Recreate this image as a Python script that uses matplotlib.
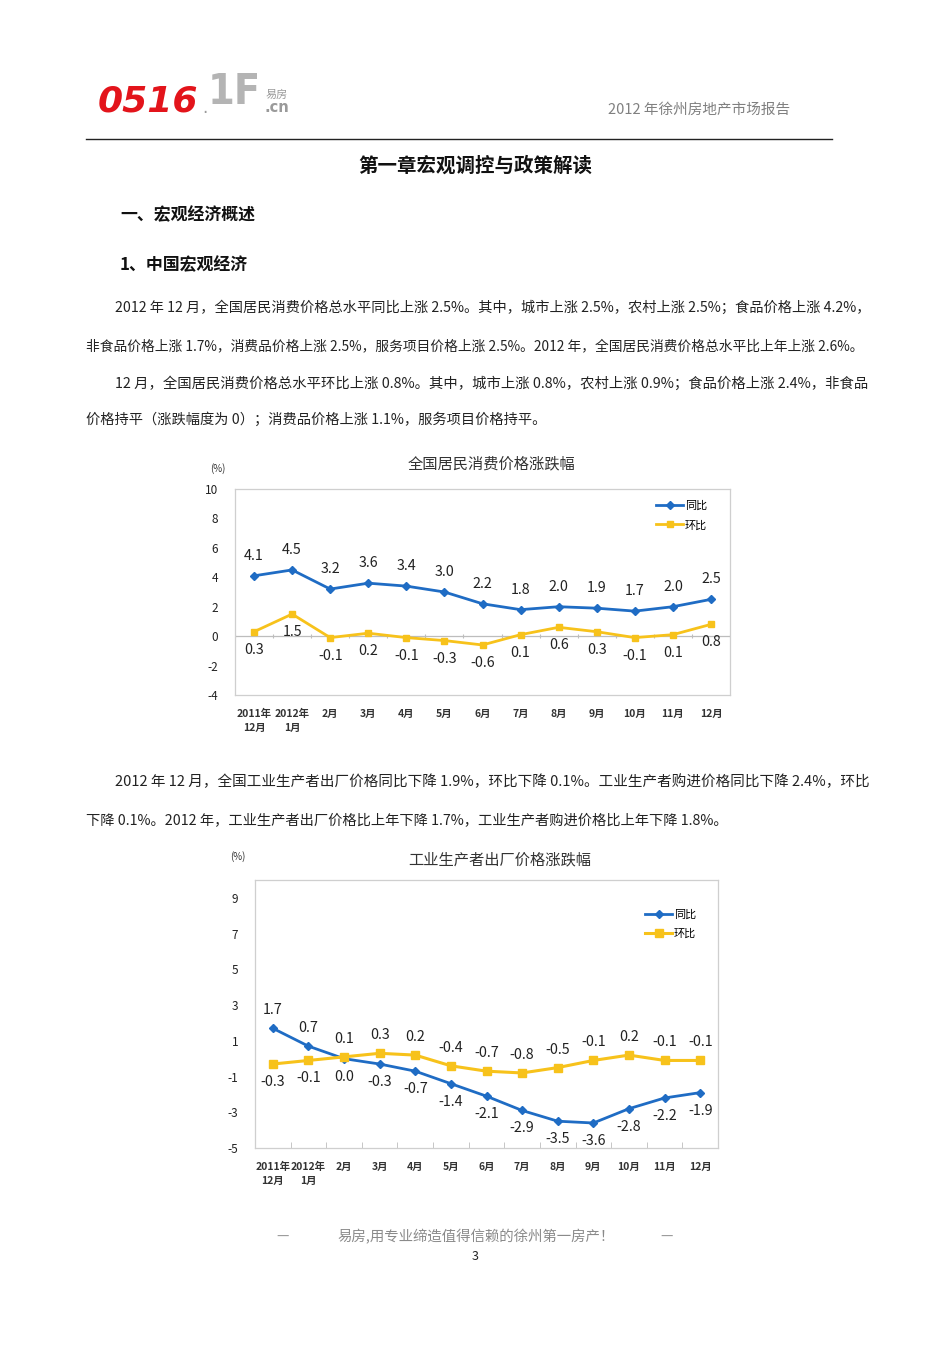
import matplotlib
matplotlib.use("Agg")
import matplotlib.pyplot as plt
import numpy as np

plt.rcParams['font.family'] = ['Noto Sans CJK SC', 'DejaVu Sans']

# ---------------- data ----------------
months = ["2011年\n12月", "2012年\n1月", "2月", "3月", "4月", "5月", "6月",
          "7月", "8月", "9月", "10月", "11月", "12月"]
cpi_yoy = [4.1, 4.5, 3.2, 3.6, 3.4, 3.0, 2.2, 1.8, 2.0, 1.9, 1.7, 2.0, 2.5]
cpi_mom = [0.3, 1.5, -0.1, 0.2, -0.1, -0.3, -0.6, 0.1, 0.6, 0.3, -0.1, 0.1, 0.8]
ppi_yoy = [1.7, 0.7, 0.0, -0.3, -0.7, -1.4, -2.1, -2.9, -3.5, -3.6, -2.8, -2.2, -1.9]
ppi_mom = [-0.3, -0.1, 0.1, 0.3, 0.2, -0.4, -0.7, -0.8, -0.5, -0.1, 0.2, -0.1, -0.1]
# label side: +1 above, -1 below
ppi_yoy_side = [1, 1, -1, -1, -1, -1, -1, -1, -1, -1, -1, -1, -1]
ppi_mom_side = [-1, -1, 1, 1, 1, 1, 1, 1, 1, 1, 1, 1, 1]
series_names = ["同比", "环比"]

BLUE = "#1f6cc4"
YELLOW = "#f7c21b"

W, H = 950, 1345
fig = plt.figure(figsize=(W / 100, H / 100), dpi=100)
fig.patch.set_facecolor("white")


def T(x, y, s, **kw):
    return fig.text(x / W, 1 - y / H, s, **kw)


# ---------------- header ----------------
T(98, 101, "0516", fontsize=26, color="#e3141b", fontweight="black",
  style="italic", va="center", ha="left", family=["DejaVu Sans"])
T(202, 108, ".", fontsize=12, color="#9a9a9a", va="center", ha="left", family=["DejaVu Sans"])
T(208, 92, "1F", fontsize=31, color="#b4b4b4", fontweight="black",
  va="center", ha="left", family=["DejaVu Sans"], fontstretch="condensed")
T(266, 95, "易房", fontsize=8, color="#9a9a9a", style="italic", va="center", ha="left")
T(265, 108, ".cn", fontsize=10.5, color="#9a9a9a", fontweight="bold",
  va="center", ha="left", family=["DejaVu Sans"])
T(790, 110, "2012 年徐州房地产市场报告", fontsize=10.5, color="#808080", va="center", ha="right")
fig.add_artist(plt.Line2D([86 / W, 832 / W], [1 - 139 / H, 1 - 139 / H],
                          color="#222222", lw=1.0, transform=fig.transFigure))

T(475, 166, "第一章宏观调控与政策解读", fontsize=14, fontweight="bold", color="#111111",
  va="center", ha="center")
T(120, 215, "一、宏观经济概述", fontsize=12.2, fontweight="bold", color="#111111",
  va="center", ha="left")
T(120, 265, "1、中国宏观经济", fontsize=12.2, fontweight="bold", color="#111111",
  va="center", ha="left")

para = [
    (115, 868, 308, "2012 年 12 月，全国居民消费价格总水平同比上涨 2.5%。其中，城市上涨 2.5%，农村上涨 2.5%；食品价格上涨 4.2%，"),
    (86, 862, 346, "非食品价格上涨 1.7%，消费品价格上涨 2.5%，服务项目价格上涨 2.5%。2012 年，全国居民消费价格总水平比上年上涨 2.6%。"),
    (115, 865, 383, "12 月，全国居民消费价格总水平环比上涨 0.8%。其中，城市上涨 0.8%，农村上涨 0.9%；食品价格上涨 2.4%，非食品"),
    (86, 545, 420, "价格持平（涨跌幅度为 0）；消费品价格上涨 1.1%，服务项目价格持平。"),
    (115, 865, 782, "2012 年 12 月，全国工业生产者出厂价格同比下降 1.9%，环比下降 0.1%。工业生产者购进价格同比下降 2.4%，环比"),
    (86, 727, 820, "下降 0.1%。2012 年，工业生产者出厂价格比上年下降 1.7%，工业生产者购进价格比上年下降 1.8%。"),
]
renderer = fig.canvas.get_renderer()
for x0, x1, y, s in para:
    t = T(x0, y, s, fontsize=10.2, color="#222222", va="center", ha="left")
    w = t.get_window_extent(renderer).width
    t.set_fontsize(10.2 * (x1 - x0) / w)

# ---------------- footer ----------------
T(283, 1237, "—", fontsize=10, color="#999999", va="center", ha="center")
T(476, 1237, "易房,用专业缔造值得信赖的徐州第一房产！", fontsize=10.4, color="#8a8a8a",
  va="center", ha="center")
T(667, 1237, "—", fontsize=10, color="#999999", va="center", ha="center")
T(475, 1257, "3", fontsize=9, color="#222222", va="center", ha="center")

x = np.arange(len(months))


def style_axes(ax, ylim, yticks):
    ax.set_xlim(-0.5, len(months) - 0.5)
    ax.set_ylim(*ylim)
    ax.set_yticks(yticks)
    ax.set_yticklabels([str(v) for v in yticks], fontsize=8.5, color="#222222")
    ax.set_xticks(x)
    ax.set_xticklabels(months, fontsize=7.5, color="#333333", fontweight="bold", linespacing=1.45)
    for sp in ax.spines.values():
        sp.set_color("#cfcfcf")
        sp.set_linewidth(0.9)
    ax.tick_params(axis="y", length=0, pad=12)
    ax.tick_params(axis="x", length=0, pad=10)


LBL = dict(ha="center", va="center", fontsize=10.3, color="#222222")

# ---------------- chart 1 ----------------
ax1 = fig.add_axes([235 / W, 1 - 695 / H, 495 / W, 206 / H])
style_axes(ax1, (-4, 10), [10, 8, 6, 4, 2, 0, -2, -4])
ax1.axhline(0, color="#bdbdbd", lw=0.9, zorder=1)
ax1.vlines(np.arange(len(months) + 1) - 0.5, -0.15, 0.15, color="#bdbdbd", lw=0.8, zorder=1)
ax1.plot(x, cpi_yoy, color=BLUE, lw=2, marker="D", ms=4, label=series_names[0], zorder=3)
ax1.plot(x, cpi_mom, color=YELLOW, lw=2, marker="s", ms=5, label=series_names[1], zorder=3)
for i, v in enumerate(cpi_yoy):
    ax1.annotate(f"{v:.1f}", (i, v), xytext=(0, 20), textcoords="offset pixels", **LBL)
for i, v in enumerate(cpi_mom):
    ax1.annotate(f"{v:.1f}", (i, v), xytext=(0, -18), textcoords="offset pixels", **LBL)
ax1.legend(loc="upper right", bbox_to_anchor=(0.97, 0.98), frameon=False, fontsize=8,
           handlelength=2.4, handletextpad=0.2, borderaxespad=0.3, labelspacing=0.8)
T(218, 469, "(%)", fontsize=7, color="#333333", va="center", ha="center")
T(492, 464, "全国居民消费价格涨跌幅", fontsize=11, color="#333333", va="center", ha="center")

# ---------------- chart 2 ----------------
ax2 = fig.add_axes([255 / W, 1 - 1148 / H, 463 / W, 268 / H])
style_axes(ax2, (-5, 10), [9, 7, 5, 3, 1, -1, -3, -5])
ax2.set_xticks(np.arange(len(months) + 1) - 0.5, minor=True)
ax2.tick_params(axis="x", which="minor", length=4, color="#bdbdbd", direction="in")
ax2.plot(x, ppi_yoy, color=BLUE, lw=2, marker="D", ms=4, label=series_names[0], zorder=3)
ax2.plot(x, ppi_mom, color=YELLOW, lw=2.2, marker="s", ms=6, label=series_names[1], zorder=3)
for i, (v, s) in enumerate(zip(ppi_yoy, ppi_yoy_side)):
    ax2.annotate(f"{v:.1f}", (i, v), xytext=(0, 18 * s), textcoords="offset pixels", **LBL)
for i, (v, s) in enumerate(zip(ppi_mom, ppi_mom_side)):
    ax2.annotate(f"{v:.1f}", (i, v), xytext=(0, 18 * s), textcoords="offset pixels", **LBL)
ax2.legend(loc="upper right", bbox_to_anchor=(0.97, 0.92), frameon=False, fontsize=8,
           handlelength=2.4, handletextpad=0.2, borderaxespad=0.3, labelspacing=0.8)
T(238, 857, "(%)", fontsize=7, color="#333333", va="center", ha="center")
T(500, 860, "工业生产者出厂价格涨跌幅", fontsize=11, color="#333333", va="center", ha="center")

fig.savefig("out.png", dpi=100, facecolor="white")
